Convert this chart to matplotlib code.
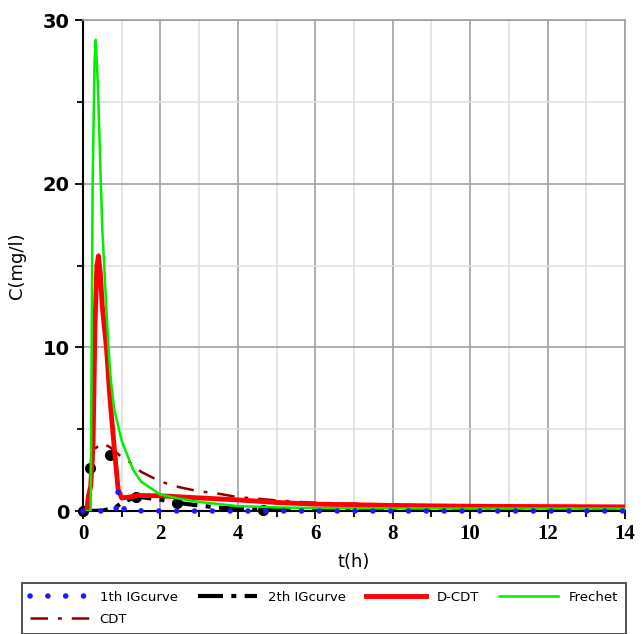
import matplotlib
matplotlib.use('Agg')
import matplotlib.pyplot as plt
from matplotlib.ticker import MultipleLocator

# ---- data ----
frechet_t = [0.0, 0.2, 0.25, 0.3, 0.33, 0.36, 0.4, 0.45, 0.5, 0.55, 0.6, 0.7, 0.8, 1.0, 1.3, 1.5, 2.0, 2.5, 3.0, 4.0, 5.0, 6.0, 8.0, 10.0, 12.0, 14.0]
frechet_c = [0.0, 0.0, 20.0, 27.5, 28.8, 27.5, 25.0, 21.0, 17.2, 15.0, 12.5, 8.5, 6.3, 4.3, 2.5, 1.8, 1.0, 0.75, 0.55, 0.3, 0.22, 0.18, 0.16, 0.15, 0.15, 0.15]

dcdt_t = [0.0, 0.1, 0.14, 0.2, 0.26, 0.31, 0.36, 0.4, 0.45, 0.5, 0.61, 0.7, 0.83, 0.91, 1.0, 1.2, 1.4, 2.0, 3.0, 4.0, 5.0, 6.0, 8.0, 10.0, 12.0, 14.0]
dcdt_c = [0.0, 0.0, 0.9, 1.5, 4.0, 11.3, 15.0, 15.6, 14.5, 12.5, 9.9, 6.8, 3.3, 1.3, 0.8, 0.85, 0.95, 0.93, 0.8, 0.68, 0.52, 0.42, 0.34, 0.29, 0.27, 0.25]

cdt_t = [0.0, 0.15, 0.2, 0.3, 0.5, 0.7, 1.0, 1.2, 1.5, 2.0, 2.5, 3.0, 3.4, 4.0, 5.0, 5.5, 6.0, 8.0, 10.0, 12.0, 14.0]
cdt_c = [0.0, 0.0, 2.0, 3.8, 4.15, 3.9, 3.3, 3.0, 2.4, 1.8, 1.45, 1.2, 1.1, 0.85, 0.65, 0.57, 0.5, 0.38, 0.3, 0.27, 0.25]

ig1_t = [0.0, 0.85, 0.9, 1.0, 1.1, 2.0, 4.0, 6.0, 8.0, 10.0, 12.0, 14.0]
ig1_c = [0.0, 0.0, 1.2, 0.35, 0.02, 0.0, 0.0, 0.0, 0.0, 0.0, 0.0, 0.0]

ig2_t = [0.0, 0.5, 0.83, 1.0, 1.38, 2.0, 2.42, 3.5, 4.65, 6.0, 8.0, 10.0, 12.0, 14.0]
ig2_c = [0.0, 0.02, 0.2, 0.5, 0.88, 0.7, 0.5, 0.2, 0.08, 0.05, 0.03, 0.02, 0.02, 0.02]
ig2_dot_t = [0.0, 0.18, 0.7, 1.38, 2.42, 4.65]
ig2_dot_c = [0.0, 2.6, 3.4, 0.88, 0.5, 0.08]

fig = plt.figure(figsize=(6.43, 6.34), dpi=100)
ax = fig.add_axes([0.129, 0.194, 0.843, 0.774])

l1, = ax.plot(ig1_t, ig1_c, color='#1a1aff', lw=4, linestyle=(0, (0.01, 3.2)),
              dash_capstyle='round', label='1th IGcurve', zorder=6, clip_on=False)
l2, = ax.plot(ig2_t, ig2_c, color='black', lw=3, linestyle=(0, (6, 2, 1.2, 2)),
              label='2th IGcurve', zorder=2)
ax.plot(ig2_dot_t, ig2_dot_c, 'o', color='black', ms=7, zorder=2, clip_on=False)
l3, = ax.plot(dcdt_t, dcdt_c, color='#ff0000', lw=3.5, label='D-CDT', zorder=4)
l4, = ax.plot(frechet_t, frechet_c, color='#00ee00', lw=1.8, label='Frechet', zorder=5)
l5, = ax.plot(cdt_t, cdt_c, color='#8b0000', lw=1.8, linestyle=(0, (7, 4, 1.5, 4)),
              label='CDT', zorder=3)

ax.set_xlim(0, 14)
ax.set_ylim(0, 30)
ax.xaxis.set_major_locator(MultipleLocator(2))
ax.xaxis.set_minor_locator(MultipleLocator(1))
ax.yaxis.set_major_locator(MultipleLocator(10))
ax.yaxis.set_minor_locator(MultipleLocator(5))
ax.grid(which='major', color='#a0a0a0', lw=1.2)
ax.grid(which='minor', color='#e0e0e0', lw=1.2)
ax.set_axisbelow(True)
for s in ['top', 'right']:
    ax.spines[s].set_color('#a0a0a0')
    ax.spines[s].set_linewidth(1.2)
for s in ['left', 'bottom']:
    ax.spines[s].set_linewidth(1.5)
ax.tick_params(which='major', direction='out', length=6, width=1.3)
ax.tick_params(which='minor', direction='out', length=4, width=1.3)

for lab in ax.get_yticklabels():
    lab.set_fontweight('bold')
    lab.set_fontsize(14)
for lab in ax.get_xticklabels():
    lab.set_family('Liberation Serif')
    lab.set_fontweight('bold')
    lab.set_fontsize(15)

ax.set_xlabel('t(h)', fontsize=13, labelpad=6)
ax.set_ylabel('C(mg/l)', fontsize=13, labelpad=12)

# matplotlib fills legend columns first; this order gives the reference's rows
leg = fig.legend(handles=[l1, l5, l2, l3, l4], loc='upper left',
                 bbox_to_anchor=(0.034, 0.081, 0.94, 0.0), mode='expand',
                 borderaxespad=0.0,
                 ncol=4, fontsize=9.5, frameon=True, fancybox=False,
                 borderpad=0.6, handlelength=4.5, handletextpad=0.8,
                 columnspacing=1.0, labelspacing=0.7)
leg.get_frame().set_edgecolor('black')
leg.get_frame().set_linewidth(1.2)

fig.savefig('out.png', dpi=100)
